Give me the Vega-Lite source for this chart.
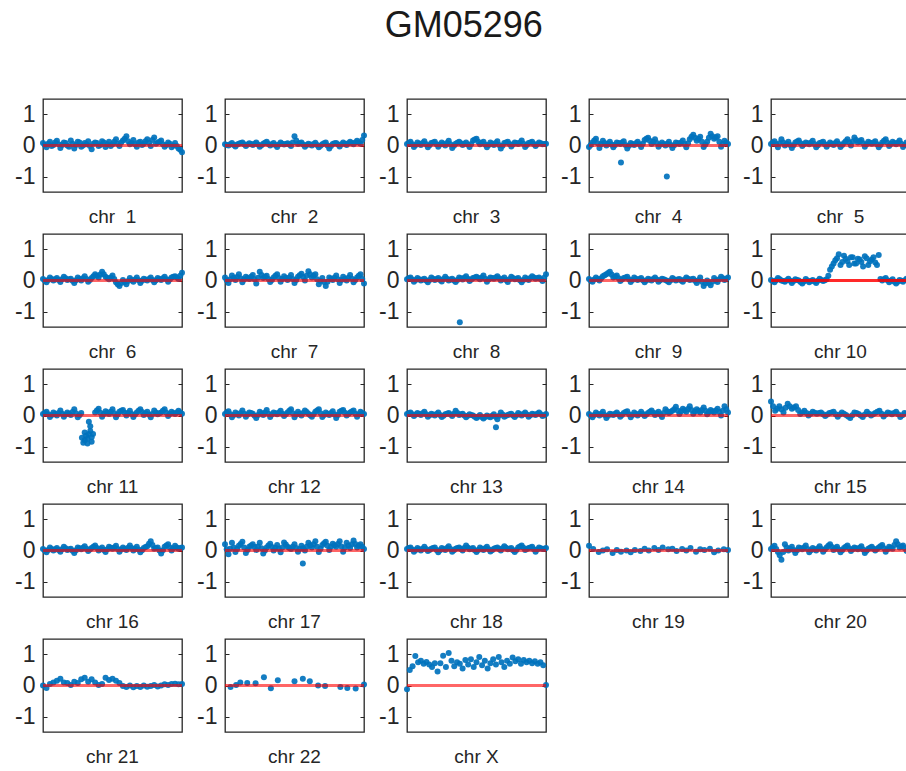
{
"$schema":"https://vega.github.io/schema/vega-lite/v6.json",
"padding":{"left":13,"top":8,"right":0,"bottom":0},
"background":"white",
"title":{"text":"GM05296","fontSize":36,"font":"Liberation Sans","fontWeight":"normal","color":"#1a1a1a","anchor":"middle","offset":53},
"bounds":"flush",
"spacing":{"row":42,"column":43},
"columns":5,
"config":{"view":{"stroke":"#262626","strokeWidth":1.3},"font":"Liberation Sans"},
"data":{"values":[
{"c":"1","x":0,"y":0.08},{"c":"1","x":2.5,"y":-0.06},{"c":"1","x":5,"y":0.12},{"c":"1","x":7.5,"y":0.02},{"c":"1","x":10,"y":0.15},{"c":"1","x":12.5,"y":-0.08},{"c":"1","x":15,"y":0.1},{"c":"1","x":17.5,"y":0},{"c":"1","x":20,"y":0.16},{"c":"1","x":22.5,"y":-0.1},{"c":"1","x":25,"y":0.12},{"c":"1","x":27.5,"y":-0.04},{"c":"1","x":30,"y":0.08},{"c":"1","x":32.5,"y":0.14},{"c":"1","x":35,"y":-0.12},{"c":"1","x":37.5,"y":0.1},{"c":"1","x":40,"y":-0.02},{"c":"1","x":42.5,"y":0.14},{"c":"1","x":45,"y":-0.05},{"c":"1","x":47.5,"y":0.12},{"c":"1","x":50,"y":0.04},{"c":"1","x":52.5,"y":0.2},{"c":"1","x":55,"y":-0.02},{"c":"1","x":57.5,"y":0.16},{"c":"1","x":60,"y":0.3},{"c":"1","x":62.5,"y":0.04},{"c":"1","x":65,"y":0.18},{"c":"1","x":67.5,"y":-0.04},{"c":"1","x":70,"y":0.12},{"c":"1","x":72.5,"y":0.06},{"c":"1","x":75,"y":0.2},{"c":"1","x":77.5,"y":-0.02},{"c":"1","x":80,"y":0.26},{"c":"1","x":82.5,"y":0.1},{"c":"1","x":85,"y":0.16},{"c":"1","x":87.5,"y":-0.04},{"c":"1","x":90,"y":0.1},{"c":"1","x":92.5,"y":-0.06},{"c":"1","x":95,"y":0.08},{"c":"1","x":97.5,"y":-0.1},{"c":"1","x":100,"y":-0.22},
{"c":"1","x":1.25,"y":0.02},{"c":"1","x":3.75,"y":0.06},{"c":"1","x":6.25,"y":-0.02},{"c":"1","x":8.75,"y":0.1},{"c":"1","x":11.25,"y":0.04},{"c":"1","x":13.75,"y":0.02},{"c":"1","x":16.25,"y":0.08},{"c":"1","x":18.75,"y":-0.04},{"c":"1","x":21.25,"y":0.06},{"c":"1","x":23.75,"y":0.02},{"c":"1","x":26.25,"y":0.1},{"c":"1","x":28.75,"y":0},{"c":"1","x":31.25,"y":0.04},{"c":"1","x":33.75,"y":-0.02},{"c":"1","x":36.25,"y":0.06},{"c":"1","x":38.75,"y":0.08},{"c":"1","x":41.25,"y":0.02},{"c":"1","x":43.75,"y":0.1},{"c":"1","x":46.25,"y":0.04},{"c":"1","x":48.75,"y":-0.02},{"c":"1","x":51.25,"y":0.12},{"c":"1","x":53.75,"y":0.06},{"c":"1","x":56.25,"y":0.1},{"c":"1","x":58.75,"y":0.22},{"c":"1","x":61.25,"y":0.14},{"c":"1","x":63.75,"y":0.08},{"c":"1","x":66.25,"y":0.04},{"c":"1","x":68.75,"y":0.1},{"c":"1","x":71.25,"y":0.02},{"c":"1","x":73.75,"y":0.14},{"c":"1","x":76.25,"y":0.08},{"c":"1","x":78.75,"y":0.18},{"c":"1","x":81.25,"y":0.06},{"c":"1","x":83.75,"y":0.12},{"c":"1","x":86.25,"y":0.04},{"c":"1","x":88.75,"y":0.02},{"c":"1","x":91.25,"y":0.06},{"c":"1","x":93.75,"y":0},{"c":"1","x":96.25,"y":-0.02},{"c":"1","x":98.75,"y":-0.14},
{"c":"2","x":0,"y":0.04},{"c":"2","x":2.5,"y":0},{"c":"2","x":5,"y":0.08},{"c":"2","x":7.5,"y":-0.03},{"c":"2","x":10,"y":0.06},{"c":"2","x":12.5,"y":0.1},{"c":"2","x":15,"y":-0.02},{"c":"2","x":17.5,"y":0.07},{"c":"2","x":20,"y":0.02},{"c":"2","x":22.5,"y":0.1},{"c":"2","x":25,"y":-0.04},{"c":"2","x":27.5,"y":0.06},{"c":"2","x":30,"y":0.12},{"c":"2","x":32.5,"y":0},{"c":"2","x":35,"y":0.08},{"c":"2","x":37.5,"y":-0.05},{"c":"2","x":40,"y":0.1},{"c":"2","x":42.5,"y":0.03},{"c":"2","x":45,"y":0.07},{"c":"2","x":47.5,"y":-0.02},{"c":"2","x":50,"y":0.3},{"c":"2","x":52.5,"y":0.05},{"c":"2","x":55,"y":0.1},{"c":"2","x":57.5,"y":-0.04},{"c":"2","x":60,"y":0.06},{"c":"2","x":62.5,"y":0},{"c":"2","x":65,"y":0.09},{"c":"2","x":67.5,"y":-0.06},{"c":"2","x":70,"y":0.04},{"c":"2","x":72.5,"y":0.1},{"c":"2","x":75,"y":-0.1},{"c":"2","x":77.5,"y":0.05},{"c":"2","x":80,"y":0.08},{"c":"2","x":82.5,"y":-0.03},{"c":"2","x":85,"y":0.1},{"c":"2","x":87.5,"y":0.02},{"c":"2","x":90,"y":0.12},{"c":"2","x":92.5,"y":0.04},{"c":"2","x":95,"y":0.15},{"c":"2","x":97.5,"y":0.06},{"c":"2","x":100,"y":0.32},
{"c":"2","x":1.25,"y":0.02},{"c":"2","x":3.75,"y":0.04},{"c":"2","x":6.25,"y":0.02},{"c":"2","x":8.75,"y":0.03},{"c":"2","x":11.25,"y":0.08},{"c":"2","x":13.75,"y":0.04},{"c":"2","x":16.25,"y":0.03},{"c":"2","x":18.75,"y":0.05},{"c":"2","x":21.25,"y":0.06},{"c":"2","x":23.75,"y":0.03},{"c":"2","x":26.25,"y":0.01},{"c":"2","x":28.75,"y":0.09},{"c":"2","x":31.25,"y":0.05},{"c":"2","x":33.75,"y":0.04},{"c":"2","x":36.25,"y":0.02},{"c":"2","x":38.75,"y":0.03},{"c":"2","x":41.25,"y":0.06},{"c":"2","x":43.75,"y":0.05},{"c":"2","x":46.25,"y":0.03},{"c":"2","x":48.75,"y":0.1},{"c":"2","x":51.25,"y":0.16},{"c":"2","x":53.75,"y":0.07},{"c":"2","x":56.25,"y":0.03},{"c":"2","x":58.75,"y":0.02},{"c":"2","x":61.25,"y":0.03},{"c":"2","x":63.75,"y":0.05},{"c":"2","x":66.25,"y":0.02},{"c":"2","x":68.75,"y":-0.01},{"c":"2","x":71.25,"y":0.07},{"c":"2","x":73.75,"y":0},{"c":"2","x":76.25,"y":-0.02},{"c":"2","x":78.75,"y":0.07},{"c":"2","x":81.25,"y":0.03},{"c":"2","x":83.75,"y":0.04},{"c":"2","x":86.25,"y":0.06},{"c":"2","x":88.75,"y":0.07},{"c":"2","x":91.25,"y":0.08},{"c":"2","x":93.75,"y":0.1},{"c":"2","x":96.25,"y":0.1},{"c":"2","x":98.75,"y":0.18},
{"c":"3","x":0,"y":0.05},{"c":"3","x":2.5,"y":0.12},{"c":"3","x":5,"y":-0.05},{"c":"3","x":7.5,"y":0.1},{"c":"3","x":10,"y":0.02},{"c":"3","x":12.5,"y":0.14},{"c":"3","x":15,"y":-0.06},{"c":"3","x":17.5,"y":0.08},{"c":"3","x":20,"y":0.12},{"c":"3","x":22.5,"y":-0.04},{"c":"3","x":25,"y":0.1},{"c":"3","x":27.5,"y":0},{"c":"3","x":30,"y":0.15},{"c":"3","x":32.5,"y":-0.08},{"c":"3","x":35,"y":0.06},{"c":"3","x":37.5,"y":0.12},{"c":"3","x":40,"y":0.02},{"c":"3","x":42.5,"y":0.1},{"c":"3","x":45,"y":-0.05},{"c":"3","x":47.5,"y":0.16},{"c":"3","x":50,"y":0.22},{"c":"3","x":52.5,"y":0.04},{"c":"3","x":55,"y":0.12},{"c":"3","x":57.5,"y":-0.06},{"c":"3","x":60,"y":0.1},{"c":"3","x":62.5,"y":0.02},{"c":"3","x":65,"y":0.14},{"c":"3","x":67.5,"y":-0.1},{"c":"3","x":70,"y":0.08},{"c":"3","x":72.5,"y":0.12},{"c":"3","x":75,"y":-0.03},{"c":"3","x":77.5,"y":0.1},{"c":"3","x":80,"y":0.05},{"c":"3","x":82.5,"y":0.16},{"c":"3","x":85,"y":-0.05},{"c":"3","x":87.5,"y":0.08},{"c":"3","x":90,"y":0.12},{"c":"3","x":92.5,"y":-0.02},{"c":"3","x":95,"y":0.1},{"c":"3","x":97.5,"y":0.04},{"c":"3","x":100,"y":0.06},
{"c":"3","x":1.25,"y":0.08},{"c":"3","x":3.75,"y":0.04},{"c":"3","x":6.25,"y":0.02},{"c":"3","x":8.75,"y":0.06},{"c":"3","x":11.25,"y":0.08},{"c":"3","x":13.75,"y":0.04},{"c":"3","x":16.25,"y":0.01},{"c":"3","x":18.75,"y":0.1},{"c":"3","x":21.25,"y":0.04},{"c":"3","x":23.75,"y":0.03},{"c":"3","x":26.25,"y":0.05},{"c":"3","x":28.75,"y":0.08},{"c":"3","x":31.25,"y":0.04},{"c":"3","x":33.75,"y":-0.01},{"c":"3","x":36.25,"y":0.09},{"c":"3","x":38.75,"y":0.07},{"c":"3","x":41.25,"y":0.06},{"c":"3","x":43.75,"y":0.03},{"c":"3","x":46.25,"y":0.05},{"c":"3","x":48.75,"y":0.19},{"c":"3","x":51.25,"y":0.12},{"c":"3","x":53.75,"y":0.08},{"c":"3","x":56.25,"y":0.03},{"c":"3","x":58.75,"y":0.02},{"c":"3","x":61.25,"y":0.06},{"c":"3","x":63.75,"y":0.08},{"c":"3","x":66.25,"y":0.02},{"c":"3","x":68.75,"y":-0.01},{"c":"3","x":71.25,"y":0.1},{"c":"3","x":73.75,"y":0.05},{"c":"3","x":76.25,"y":0.03},{"c":"3","x":78.75,"y":0.08},{"c":"3","x":81.25,"y":0.1},{"c":"3","x":83.75,"y":0.06},{"c":"3","x":86.25,"y":0.02},{"c":"3","x":88.75,"y":0.1},{"c":"3","x":91.25,"y":0.05},{"c":"3","x":93.75,"y":0.04},{"c":"3","x":96.25,"y":0.07},{"c":"3","x":98.75,"y":0.05},
{"c":"4","x":0,"y":-0.05},{"c":"4","x":2.5,"y":0.1},{"c":"4","x":5,"y":0.22},{"c":"4","x":7.5,"y":-0.08},{"c":"4","x":10,"y":0.15},{"c":"4","x":12.5,"y":0},{"c":"4","x":15,"y":0.12},{"c":"4","x":17.5,"y":-0.06},{"c":"4","x":20,"y":0.1},{"c":"4","x":22.5,"y":0.05},{"c":"4","x":25,"y":0.14},{"c":"4","x":27.5,"y":-0.1},{"c":"4","x":30,"y":0.08},{"c":"4","x":32.5,"y":0.02},{"c":"4","x":35,"y":0.12},{"c":"4","x":37.5,"y":-0.05},{"c":"4","x":40,"y":0.18},{"c":"4","x":42.5,"y":0.25},{"c":"4","x":45,"y":0.05},{"c":"4","x":47.5,"y":0.2},{"c":"4","x":50,"y":-0.04},{"c":"4","x":52.5,"y":0.1},{"c":"4","x":55,"y":0},{"c":"4","x":57.5,"y":0.12},{"c":"4","x":60,"y":-0.08},{"c":"4","x":62.5,"y":0.1},{"c":"4","x":65,"y":0.05},{"c":"4","x":67.5,"y":0.16},{"c":"4","x":70,"y":-0.06},{"c":"4","x":72.5,"y":0.2},{"c":"4","x":75,"y":0.35},{"c":"4","x":77.5,"y":0.15},{"c":"4","x":80,"y":0.28},{"c":"4","x":82.5,"y":-0.05},{"c":"4","x":85,"y":0.12},{"c":"4","x":87.5,"y":0.38},{"c":"4","x":90,"y":0.22},{"c":"4","x":92.5,"y":0.3},{"c":"4","x":95,"y":-0.04},{"c":"4","x":97.5,"y":0.15},{"c":"4","x":100,"y":0.05},{"c":"4","x":23,"y":-0.55},{"c":"4","x":56,"y":-1.0},
{"c":"4","x":1.25,"y":0.02},{"c":"4","x":3.75,"y":0.16},{"c":"4","x":6.25,"y":0.07},{"c":"4","x":8.75,"y":0.04},{"c":"4","x":11.25,"y":0.08},{"c":"4","x":13.75,"y":0.06},{"c":"4","x":16.25,"y":0.03},{"c":"4","x":18.75,"y":0.02},{"c":"4","x":21.25,"y":0.08},{"c":"4","x":23.75,"y":0.1},{"c":"4","x":26.25,"y":0.02},{"c":"4","x":28.75,"y":-0.01},{"c":"4","x":31.25,"y":0.05},{"c":"4","x":33.75,"y":0.07},{"c":"4","x":36.25,"y":0.04},{"c":"4","x":38.75,"y":0.06},{"c":"4","x":41.25,"y":0.22},{"c":"4","x":43.75,"y":0.15},{"c":"4","x":46.25,"y":0.12},{"c":"4","x":48.75,"y":0.08},{"c":"4","x":51.25,"y":0.03},{"c":"4","x":53.75,"y":0.05},{"c":"4","x":56.25,"y":0.06},{"c":"4","x":58.75,"y":0.02},{"c":"4","x":61.25,"y":0.01},{"c":"4","x":63.75,"y":0.08},{"c":"4","x":66.25,"y":0.1},{"c":"4","x":68.75,"y":0.05},{"c":"4","x":71.25,"y":0.07},{"c":"4","x":73.75,"y":0.28},{"c":"4","x":76.25,"y":0.25},{"c":"4","x":78.75,"y":0.22},{"c":"4","x":81.25,"y":0.12},{"c":"4","x":83.75,"y":0.03},{"c":"4","x":86.25,"y":0.25},{"c":"4","x":88.75,"y":0.3},{"c":"4","x":91.25,"y":0.26},{"c":"4","x":93.75,"y":0.12},{"c":"4","x":96.25,"y":0.05},{"c":"4","x":98.75,"y":0.1},
{"c":"5","x":0,"y":0.05},{"c":"5","x":2.5,"y":0.14},{"c":"5","x":5,"y":-0.06},{"c":"5","x":7.5,"y":0.2},{"c":"5","x":10,"y":0},{"c":"5","x":12.5,"y":0.12},{"c":"5","x":15,"y":-0.08},{"c":"5","x":17.5,"y":0.1},{"c":"5","x":20,"y":0.16},{"c":"5","x":22.5,"y":-0.02},{"c":"5","x":25,"y":0.1},{"c":"5","x":27.5,"y":0.04},{"c":"5","x":30,"y":0.15},{"c":"5","x":32.5,"y":-0.06},{"c":"5","x":35,"y":0.08},{"c":"5","x":37.5,"y":0.12},{"c":"5","x":40,"y":-0.04},{"c":"5","x":42.5,"y":0.1},{"c":"5","x":45,"y":0.02},{"c":"5","x":47.5,"y":0.14},{"c":"5","x":50,"y":-0.05},{"c":"5","x":52.5,"y":0.08},{"c":"5","x":55,"y":0.2},{"c":"5","x":57.5,"y":0},{"c":"5","x":60,"y":0.26},{"c":"5","x":62.5,"y":0.1},{"c":"5","x":65,"y":0.18},{"c":"5","x":67.5,"y":-0.04},{"c":"5","x":70,"y":0.12},{"c":"5","x":72.5,"y":0.06},{"c":"5","x":75,"y":0.14},{"c":"5","x":77.5,"y":-0.06},{"c":"5","x":80,"y":0.1},{"c":"5","x":82.5,"y":0.2},{"c":"5","x":85,"y":-0.02},{"c":"5","x":87.5,"y":0.12},{"c":"5","x":90,"y":0.04},{"c":"5","x":92.5,"y":0.16},{"c":"5","x":95,"y":-0.05},{"c":"5","x":97.5,"y":0.1},{"c":"5","x":100,"y":0.06},
{"c":"5","x":1.25,"y":0.1},{"c":"5","x":3.75,"y":0.04},{"c":"5","x":6.25,"y":0.07},{"c":"5","x":8.75,"y":0.1},{"c":"5","x":11.25,"y":0.06},{"c":"5","x":13.75,"y":0.02},{"c":"5","x":16.25,"y":0.01},{"c":"5","x":18.75,"y":0.13},{"c":"5","x":21.25,"y":0.07},{"c":"5","x":23.75,"y":0.04},{"c":"5","x":26.25,"y":0.07},{"c":"5","x":28.75,"y":0.1},{"c":"5","x":31.25,"y":0.05},{"c":"5","x":33.75,"y":0.01},{"c":"5","x":36.25,"y":0.1},{"c":"5","x":38.75,"y":0.04},{"c":"5","x":41.25,"y":0.03},{"c":"5","x":43.75,"y":0.06},{"c":"5","x":46.25,"y":0.08},{"c":"5","x":48.75,"y":0.05},{"c":"5","x":51.25,"y":0.02},{"c":"5","x":53.75,"y":0.14},{"c":"5","x":56.25,"y":0.1},{"c":"5","x":58.75,"y":0.13},{"c":"5","x":61.25,"y":0.18},{"c":"5","x":63.75,"y":0.14},{"c":"5","x":66.25,"y":0.07},{"c":"5","x":68.75,"y":0.04},{"c":"5","x":71.25,"y":0.09},{"c":"5","x":73.75,"y":0.1},{"c":"5","x":76.25,"y":0.04},{"c":"5","x":78.75,"y":0.02},{"c":"5","x":81.25,"y":0.15},{"c":"5","x":83.75,"y":0.09},{"c":"5","x":86.25,"y":0.05},{"c":"5","x":88.75,"y":0.08},{"c":"5","x":91.25,"y":0.1},{"c":"5","x":93.75,"y":0.06},{"c":"5","x":96.25,"y":0.02},{"c":"5","x":98.75,"y":0.08},
{"c":"6","x":0,"y":0.05},{"c":"6","x":2.5,"y":-0.06},{"c":"6","x":5,"y":0.1},{"c":"6","x":7.5,"y":0},{"c":"6","x":10,"y":0.08},{"c":"6","x":12.5,"y":-0.05},{"c":"6","x":15,"y":0.12},{"c":"6","x":17.5,"y":0.02},{"c":"6","x":20,"y":0.06},{"c":"6","x":22.5,"y":-0.08},{"c":"6","x":25,"y":0.1},{"c":"6","x":27.5,"y":0},{"c":"6","x":30,"y":0.14},{"c":"6","x":32.5,"y":-0.04},{"c":"6","x":35,"y":0.08},{"c":"6","x":37.5,"y":0.2},{"c":"6","x":40,"y":0.1},{"c":"6","x":42.5,"y":0.28},{"c":"6","x":45,"y":0.12},{"c":"6","x":47.5,"y":0.04},{"c":"6","x":50,"y":0.16},{"c":"6","x":52.5,"y":-0.06},{"c":"6","x":55,"y":-0.18},{"c":"6","x":57.5,"y":0.02},{"c":"6","x":60,"y":-0.12},{"c":"6","x":62.5,"y":0.08},{"c":"6","x":65,"y":-0.04},{"c":"6","x":67.5,"y":0.1},{"c":"6","x":70,"y":-0.08},{"c":"6","x":72.5,"y":0.06},{"c":"6","x":75,"y":0},{"c":"6","x":77.5,"y":0.1},{"c":"6","x":80,"y":-0.06},{"c":"6","x":82.5,"y":0.08},{"c":"6","x":85,"y":0.02},{"c":"6","x":87.5,"y":0.12},{"c":"6","x":90,"y":-0.04},{"c":"6","x":92.5,"y":0.1},{"c":"6","x":95,"y":0.14},{"c":"6","x":97.5,"y":0.05},{"c":"6","x":100,"y":0.25},
{"c":"6","x":1.25,"y":0},{"c":"6","x":3.75,"y":0.02},{"c":"6","x":6.25,"y":0.05},{"c":"6","x":8.75,"y":0.04},{"c":"6","x":11.25,"y":0.02},{"c":"6","x":13.75,"y":0.04},{"c":"6","x":16.25,"y":0.07},{"c":"6","x":18.75,"y":0.04},{"c":"6","x":21.25,"y":-0.01},{"c":"6","x":23.75,"y":0.01},{"c":"6","x":26.25,"y":0.05},{"c":"6","x":28.75,"y":0.07},{"c":"6","x":31.25,"y":0.05},{"c":"6","x":33.75,"y":0.02},{"c":"6","x":36.25,"y":0.14},{"c":"6","x":38.75,"y":0.15},{"c":"6","x":41.25,"y":0.19},{"c":"6","x":43.75,"y":0.2},{"c":"6","x":46.25,"y":0.08},{"c":"6","x":48.75,"y":0.1},{"c":"6","x":51.25,"y":0.05},{"c":"6","x":53.75,"y":-0.12},{"c":"6","x":56.25,"y":-0.08},{"c":"6","x":58.75,"y":-0.05},{"c":"6","x":61.25,"y":-0.02},{"c":"6","x":63.75,"y":0.02},{"c":"6","x":66.25,"y":0.03},{"c":"6","x":68.75,"y":0.01},{"c":"6","x":71.25,"y":-0.01},{"c":"6","x":73.75,"y":0.03},{"c":"6","x":76.25,"y":0.05},{"c":"6","x":78.75,"y":0.02},{"c":"6","x":81.25,"y":0.01},{"c":"6","x":83.75,"y":0.05},{"c":"6","x":86.25,"y":0.07},{"c":"6","x":88.75,"y":0.04},{"c":"6","x":91.25,"y":0.03},{"c":"6","x":93.75,"y":0.12},{"c":"6","x":96.25,"y":0.1},{"c":"6","x":98.75,"y":0.15},
{"c":"7","x":0,"y":0.1},{"c":"7","x":2.5,"y":-0.08},{"c":"7","x":5,"y":0.16},{"c":"7","x":7.5,"y":0.02},{"c":"7","x":10,"y":0.2},{"c":"7","x":12.5,"y":-0.06},{"c":"7","x":15,"y":0.12},{"c":"7","x":17.5,"y":0.05},{"c":"7","x":20,"y":0.18},{"c":"7","x":22.5,"y":-0.1},{"c":"7","x":25,"y":0.28},{"c":"7","x":27.5,"y":0.08},{"c":"7","x":30,"y":0.15},{"c":"7","x":32.5,"y":-0.05},{"c":"7","x":35,"y":0.1},{"c":"7","x":37.5,"y":0.2},{"c":"7","x":40,"y":-0.04},{"c":"7","x":42.5,"y":0.14},{"c":"7","x":45,"y":0.02},{"c":"7","x":47.5,"y":0.18},{"c":"7","x":50,"y":-0.08},{"c":"7","x":52.5,"y":0.12},{"c":"7","x":55,"y":0.22},{"c":"7","x":57.5,"y":0},{"c":"7","x":60,"y":0.3},{"c":"7","x":62.5,"y":0.1},{"c":"7","x":65,"y":0.2},{"c":"7","x":67.5,"y":-0.12},{"c":"7","x":70,"y":0.08},{"c":"7","x":72.5,"y":-0.18},{"c":"7","x":75,"y":0.1},{"c":"7","x":77.5,"y":0.02},{"c":"7","x":80,"y":0.16},{"c":"7","x":82.5,"y":-0.08},{"c":"7","x":85,"y":0.12},{"c":"7","x":87.5,"y":0},{"c":"7","x":90,"y":0.18},{"c":"7","x":92.5,"y":-0.06},{"c":"7","x":95,"y":0.1},{"c":"7","x":97.5,"y":0.2},{"c":"7","x":100,"y":-0.1},
{"c":"7","x":1.25,"y":0.01},{"c":"7","x":3.75,"y":0.04},{"c":"7","x":6.25,"y":0.09},{"c":"7","x":8.75,"y":0.11},{"c":"7","x":11.25,"y":0.07},{"c":"7","x":13.75,"y":0.03},{"c":"7","x":16.25,"y":0.08},{"c":"7","x":18.75,"y":0.12},{"c":"7","x":21.25,"y":0.04},{"c":"7","x":23.75,"y":0.09},{"c":"7","x":26.25,"y":0.18},{"c":"7","x":28.75,"y":0.12},{"c":"7","x":31.25,"y":0.05},{"c":"7","x":33.75,"y":0.02},{"c":"7","x":36.25,"y":0.15},{"c":"7","x":38.75,"y":0.08},{"c":"7","x":41.25,"y":0.05},{"c":"7","x":43.75,"y":0.08},{"c":"7","x":46.25,"y":0.1},{"c":"7","x":48.75,"y":0.05},{"c":"7","x":51.25,"y":0.02},{"c":"7","x":53.75,"y":0.17},{"c":"7","x":56.25,"y":0.11},{"c":"7","x":58.75,"y":0.15},{"c":"7","x":61.25,"y":0.2},{"c":"7","x":63.75,"y":0.15},{"c":"7","x":66.25,"y":0.04},{"c":"7","x":68.75,"y":-0.02},{"c":"7","x":71.25,"y":-0.05},{"c":"7","x":73.75,"y":-0.04},{"c":"7","x":76.25,"y":0.06},{"c":"7","x":78.75,"y":0.09},{"c":"7","x":81.25,"y":0.04},{"c":"7","x":83.75,"y":0.02},{"c":"7","x":86.25,"y":0.06},{"c":"7","x":88.75,"y":0.09},{"c":"7","x":91.25,"y":0.06},{"c":"7","x":93.75,"y":0.02},{"c":"7","x":96.25,"y":0.15},{"c":"7","x":98.75,"y":0.05},
{"c":"8","x":0,"y":0.04},{"c":"8","x":2.5,"y":0.1},{"c":"8","x":5,"y":-0.04},{"c":"8","x":7.5,"y":0.08},{"c":"8","x":10,"y":0},{"c":"8","x":12.5,"y":0.06},{"c":"8","x":15,"y":-0.06},{"c":"8","x":17.5,"y":0.1},{"c":"8","x":20,"y":0.02},{"c":"8","x":22.5,"y":0.08},{"c":"8","x":25,"y":-0.03},{"c":"8","x":27.5,"y":0.12},{"c":"8","x":30,"y":0},{"c":"8","x":32.5,"y":0.06},{"c":"8","x":35,"y":-0.05},{"c":"8","x":37.5,"y":0.1},{"c":"8","x":40,"y":0.03},{"c":"8","x":42.5,"y":0.14},{"c":"8","x":45,"y":-0.02},{"c":"8","x":47.5,"y":0.08},{"c":"8","x":50,"y":0.12},{"c":"8","x":52.5,"y":0.04},{"c":"8","x":55,"y":0.16},{"c":"8","x":57.5,"y":-0.04},{"c":"8","x":60,"y":0.1},{"c":"8","x":62.5,"y":0.06},{"c":"8","x":65,"y":0.14},{"c":"8","x":67.5,"y":0},{"c":"8","x":70,"y":0.1},{"c":"8","x":72.5,"y":-0.05},{"c":"8","x":75,"y":0.12},{"c":"8","x":77.5,"y":0.04},{"c":"8","x":80,"y":0.08},{"c":"8","x":82.5,"y":-0.06},{"c":"8","x":85,"y":0.1},{"c":"8","x":87.5,"y":0.02},{"c":"8","x":90,"y":0.14},{"c":"8","x":92.5,"y":0.06},{"c":"8","x":95,"y":0.1},{"c":"8","x":97.5,"y":-0.02},{"c":"8","x":100,"y":0.2},{"c":"8","x":38,"y":-1.35},
{"c":"8","x":1.25,"y":0.07},{"c":"8","x":3.75,"y":0.03},{"c":"8","x":6.25,"y":0.02},{"c":"8","x":8.75,"y":0.04},{"c":"8","x":11.25,"y":0.03},{"c":"8","x":13.75,"y":0},{"c":"8","x":16.25,"y":0.02},{"c":"8","x":18.75,"y":0.06},{"c":"8","x":21.25,"y":0.05},{"c":"8","x":23.75,"y":0.02},{"c":"8","x":26.25,"y":0.05},{"c":"8","x":28.75,"y":0.06},{"c":"8","x":31.25,"y":0.03},{"c":"8","x":33.75,"y":0},{"c":"8","x":36.25,"y":0.02},{"c":"8","x":38.75,"y":0.07},{"c":"8","x":41.25,"y":0.09},{"c":"8","x":43.75,"y":0.06},{"c":"8","x":46.25,"y":0.03},{"c":"8","x":48.75,"y":0.1},{"c":"8","x":51.25,"y":0.08},{"c":"8","x":53.75,"y":0.1},{"c":"8","x":56.25,"y":0.06},{"c":"8","x":58.75,"y":0.03},{"c":"8","x":61.25,"y":0.08},{"c":"8","x":63.75,"y":0.1},{"c":"8","x":66.25,"y":0.07},{"c":"8","x":68.75,"y":0.05},{"c":"8","x":71.25,"y":0.02},{"c":"8","x":73.75,"y":0.04},{"c":"8","x":76.25,"y":0.08},{"c":"8","x":78.75,"y":0.06},{"c":"8","x":81.25,"y":0.01},{"c":"8","x":83.75,"y":0.02},{"c":"8","x":86.25,"y":0.06},{"c":"8","x":88.75,"y":0.08},{"c":"8","x":91.25,"y":0.1},{"c":"8","x":93.75,"y":0.08},{"c":"8","x":96.25,"y":0.04},{"c":"8","x":98.75,"y":0.09},
{"c":"9","x":0,"y":0.05},{"c":"9","x":2.5,"y":-0.04},{"c":"9","x":5,"y":0.1},{"c":"9","x":7.5,"y":0},{"c":"9","x":10,"y":0.14},{"c":"9","x":12.5,"y":0.2},{"c":"9","x":15,"y":0.28},{"c":"9","x":17.5,"y":0.1},{"c":"9","x":20,"y":0.16},{"c":"9","x":22.5,"y":-0.02},{"c":"9","x":25,"y":0.08},{"c":"9","x":27.5,"y":0.12},{"c":"9","x":30,"y":-0.05},{"c":"9","x":32.5,"y":0.1},{"c":"9","x":35,"y":0.02},{"c":"9","x":37.5,"y":0.08},{"c":"9","x":40,"y":-0.06},{"c":"9","x":42.5,"y":0.06},{"c":"9","x":45,"y":0},{"c":"9","x":47.5,"y":0.1},{"c":"9","x":50,"y":-0.04},{"c":"9","x":52.5,"y":0.06},{"c":"9","x":55,"y":0.02},{"c":"9","x":57.5,"y":-0.06},{"c":"9","x":60,"y":0.08},{"c":"9","x":62.5,"y":0},{"c":"9","x":65,"y":0.05},{"c":"9","x":67.5,"y":-0.04},{"c":"9","x":70,"y":0.1},{"c":"9","x":72.5,"y":0.02},{"c":"9","x":75,"y":0.06},{"c":"9","x":77.5,"y":-0.08},{"c":"9","x":80,"y":0.1},{"c":"9","x":82.5,"y":-0.18},{"c":"9","x":85,"y":0},{"c":"9","x":87.5,"y":-0.15},{"c":"9","x":90,"y":0.08},{"c":"9","x":92.5,"y":-0.05},{"c":"9","x":95,"y":0.12},{"c":"9","x":97.5,"y":0.02},{"c":"9","x":100,"y":0.1},
{"c":"9","x":1.25,"y":0},{"c":"9","x":3.75,"y":0.03},{"c":"9","x":6.25,"y":0.05},{"c":"9","x":8.75,"y":0.07},{"c":"9","x":11.25,"y":0.17},{"c":"9","x":13.75,"y":0.24},{"c":"9","x":16.25,"y":0.19},{"c":"9","x":18.75,"y":0.13},{"c":"9","x":21.25,"y":0.07},{"c":"9","x":23.75,"y":0.03},{"c":"9","x":26.25,"y":0.1},{"c":"9","x":28.75,"y":0.04},{"c":"9","x":31.25,"y":0.02},{"c":"9","x":33.75,"y":0.06},{"c":"9","x":36.25,"y":0.05},{"c":"9","x":38.75,"y":0.01},{"c":"9","x":41.25,"y":0},{"c":"9","x":43.75,"y":0.03},{"c":"9","x":46.25,"y":0.05},{"c":"9","x":48.75,"y":0.03},{"c":"9","x":51.25,"y":0.01},{"c":"9","x":53.75,"y":0.04},{"c":"9","x":56.25,"y":-0.02},{"c":"9","x":58.75,"y":0.01},{"c":"9","x":61.25,"y":0.04},{"c":"9","x":63.75,"y":0.03},{"c":"9","x":66.25,"y":0},{"c":"9","x":68.75,"y":0.03},{"c":"9","x":71.25,"y":0.06},{"c":"9","x":73.75,"y":0.04},{"c":"9","x":76.25,"y":-0.01},{"c":"9","x":78.75,"y":0.01},{"c":"9","x":81.25,"y":-0.04},{"c":"9","x":83.75,"y":-0.09},{"c":"9","x":86.25,"y":-0.08},{"c":"9","x":88.75,"y":-0.04},{"c":"9","x":91.25,"y":0.01},{"c":"9","x":93.75,"y":0.04},{"c":"9","x":96.25,"y":0.07},{"c":"9","x":98.75,"y":0.06},
{"c":"10","x":0,"y":0.02},{"c":"10","x":2.5,"y":-0.06},{"c":"10","x":5,"y":0.08},{"c":"10","x":7.5,"y":0},{"c":"10","x":10,"y":-0.04},{"c":"10","x":12.5,"y":0.06},{"c":"10","x":15,"y":-0.08},{"c":"10","x":17.5,"y":0.04},{"c":"10","x":20,"y":0},{"c":"10","x":22.5,"y":-0.1},{"c":"10","x":25,"y":0.05},{"c":"10","x":27.5,"y":-0.06},{"c":"10","x":30,"y":0.02},{"c":"10","x":32.5,"y":-0.08},{"c":"10","x":35,"y":0.06},{"c":"10","x":37.5,"y":-0.02},{"c":"10","x":40,"y":0.04},
{"c":"10","x":1.25,"y":-0.02},{"c":"10","x":3.75,"y":0.01},{"c":"10","x":6.25,"y":0.04},{"c":"10","x":8.75,"y":-0.02},{"c":"10","x":11.25,"y":0.01},{"c":"10","x":13.75,"y":-0.01},{"c":"10","x":16.25,"y":-0.02},{"c":"10","x":18.75,"y":0.02},{"c":"10","x":21.25,"y":-0.05},{"c":"10","x":23.75,"y":-0.03},{"c":"10","x":26.25,"y":0},{"c":"10","x":28.75,"y":-0.02},{"c":"10","x":31.25,"y":-0.03},{"c":"10","x":33.75,"y":-0.01},{"c":"10","x":36.25,"y":0.02},{"c":"10","x":38.75,"y":0.01},
{"c":"10","x":42.5,"y":0.35},{"c":"10","x":45,"y":0.55},{"c":"10","x":47.5,"y":0.72},{"c":"10","x":50,"y":0.5},{"c":"10","x":52.5,"y":0.8},{"c":"10","x":55,"y":0.62},{"c":"10","x":57.5,"y":0.75},{"c":"10","x":60,"y":0.55},{"c":"10","x":62.5,"y":0.7},{"c":"10","x":65,"y":0.6},{"c":"10","x":67.5,"y":0.78},{"c":"10","x":70,"y":0.5},{"c":"10","x":72.5,"y":0.68},{"c":"10","x":75,"y":0.58},{"c":"10","x":77.5,"y":0.82},
{"c":"10","x":41.25,"y":0.15},{"c":"10","x":43.75,"y":0.45},{"c":"10","x":46.25,"y":0.65},{"c":"10","x":48.75,"y":0.85},{"c":"10","x":51.25,"y":0.6},{"c":"10","x":53.75,"y":0.7},{"c":"10","x":56.25,"y":0.5},{"c":"10","x":58.75,"y":0.75},{"c":"10","x":61.25,"y":0.55},{"c":"10","x":63.75,"y":0.68},{"c":"10","x":66.25,"y":0.45},{"c":"10","x":68.75,"y":0.72},{"c":"10","x":71.25,"y":0.62},{"c":"10","x":73.75,"y":0.75},{"c":"10","x":76.25,"y":0.5},
{"c":"10","x":80,"y":0},{"c":"10","x":82.5,"y":0.08},{"c":"10","x":85,"y":-0.06},{"c":"10","x":87.5,"y":0.04},{"c":"10","x":90,"y":-0.1},{"c":"10","x":92.5,"y":0.02},{"c":"10","x":95,"y":-0.04},{"c":"10","x":97.5,"y":0.06},{"c":"10","x":100,"y":-0.02},
{"c":"10","x":78.75,"y":0.05},{"c":"10","x":81.25,"y":0.04},{"c":"10","x":83.75,"y":0.01},{"c":"10","x":86.25,"y":-0.01},{"c":"10","x":88.75,"y":-0.04},{"c":"10","x":91.25,"y":-0.04},{"c":"10","x":93.75,"y":-0.01},{"c":"10","x":96.25,"y":0.01},{"c":"10","x":98.75,"y":0.02},
{"c":"11","x":0,"y":0.05},{"c":"11","x":2.5,"y":0.12},{"c":"11","x":5,"y":-0.05},{"c":"11","x":7.5,"y":0.1},{"c":"11","x":10,"y":0},{"c":"11","x":12.5,"y":0.16},{"c":"11","x":15,"y":-0.04},{"c":"11","x":17.5,"y":0.1},{"c":"11","x":20,"y":0.02},{"c":"11","x":22.5,"y":0.2},{"c":"11","x":25,"y":-0.06},{"c":"11","x":27.5,"y":0.08},
{"c":"11","x":1.25,"y":0.08},{"c":"11","x":3.75,"y":0.04},{"c":"11","x":6.25,"y":0.02},{"c":"11","x":8.75,"y":0.05},{"c":"11","x":11.25,"y":0.08},{"c":"11","x":13.75,"y":0.06},{"c":"11","x":16.25,"y":0.03},{"c":"11","x":18.75,"y":0.06},{"c":"11","x":21.25,"y":0.11},{"c":"11","x":23.75,"y":0.07},{"c":"11","x":26.25,"y":0.01},
{"c":"11","x":37.5,"y":0.1},{"c":"11","x":40,"y":0.22},{"c":"11","x":42.5,"y":-0.04},{"c":"11","x":45,"y":0.14},{"c":"11","x":47.5,"y":0.05},{"c":"11","x":50,"y":0.2},{"c":"11","x":52.5,"y":-0.06},{"c":"11","x":55,"y":0.12},{"c":"11","x":57.5,"y":0.18},{"c":"11","x":60,"y":0},{"c":"11","x":62.5,"y":0.15},{"c":"11","x":65,"y":-0.05},{"c":"11","x":67.5,"y":0.1},{"c":"11","x":70,"y":0.2},{"c":"11","x":72.5,"y":0.02},{"c":"11","x":75,"y":0.12},{"c":"11","x":77.5,"y":-0.06},{"c":"11","x":80,"y":0.16},{"c":"11","x":82.5,"y":0.04},{"c":"11","x":85,"y":0.1},{"c":"11","x":87.5,"y":0.2},{"c":"11","x":90,"y":-0.02},{"c":"11","x":92.5,"y":0.12},{"c":"11","x":95,"y":0.05},{"c":"11","x":97.5,"y":0.15},{"c":"11","x":100,"y":0.06},
{"c":"11","x":38.75,"y":0.16},{"c":"11","x":41.25,"y":0.09},{"c":"11","x":43.75,"y":0.05},{"c":"11","x":46.25,"y":0.1},{"c":"11","x":48.75,"y":0.12},{"c":"11","x":51.25,"y":0.07},{"c":"11","x":53.75,"y":0.03},{"c":"11","x":56.25,"y":0.15},{"c":"11","x":58.75,"y":0.09},{"c":"11","x":61.25,"y":0.08},{"c":"11","x":63.75,"y":0.05},{"c":"11","x":66.25,"y":0.03},{"c":"11","x":68.75,"y":0.15},{"c":"11","x":71.25,"y":0.11},{"c":"11","x":73.75,"y":0.07},{"c":"11","x":76.25,"y":0.03},{"c":"11","x":78.75,"y":0.05},{"c":"11","x":81.25,"y":0.1},{"c":"11","x":83.75,"y":0.07},{"c":"11","x":86.25,"y":0.15},{"c":"11","x":88.75,"y":0.09},{"c":"11","x":91.25,"y":0.05},{"c":"11","x":93.75,"y":0.08},{"c":"11","x":96.25,"y":0.1},{"c":"11","x":98.75,"y":0.1},
{"c":"11","x":33,"y":-0.2},{"c":"11","x":34,"y":-0.35},{"c":"11","x":30,"y":-0.55},{"c":"11","x":31,"y":-0.65},{"c":"11","x":33,"y":-0.6},{"c":"11","x":28,"y":-0.72},{"c":"11","x":30,"y":-0.8},{"c":"11","x":32,"y":-0.75},{"c":"11","x":35,"y":-0.7},{"c":"11","x":29,"y":-0.88},{"c":"11","x":32,"y":-0.9},{"c":"11","x":35,"y":-0.85},{"c":"11","x":36,"y":-0.6},{"c":"11","x":34,"y":-0.5},
{"c":"12","x":0,"y":0.05},{"c":"12","x":2.5,"y":0.14},{"c":"12","x":5,"y":-0.06},{"c":"12","x":7.5,"y":0.1},{"c":"12","x":10,"y":0},{"c":"12","x":12.5,"y":0.16},{"c":"12","x":15,"y":-0.04},{"c":"12","x":17.5,"y":0.1},{"c":"12","x":20,"y":0.06},{"c":"12","x":22.5,"y":-0.08},{"c":"12","x":25,"y":0.12},{"c":"12","x":27.5,"y":0.02},{"c":"12","x":30,"y":0.18},{"c":"12","x":32.5,"y":-0.05},{"c":"12","x":35,"y":0.1},{"c":"12","x":37.5,"y":0.04},{"c":"12","x":40,"y":0.15},{"c":"12","x":42.5,"y":-0.02},{"c":"12","x":45,"y":0.1},{"c":"12","x":47.5,"y":0.2},{"c":"12","x":50,"y":-0.06},{"c":"12","x":52.5,"y":0.12},{"c":"12","x":55,"y":0},{"c":"12","x":57.5,"y":0.16},{"c":"12","x":60,"y":0.06},{"c":"12","x":62.5,"y":-0.04},{"c":"12","x":65,"y":0.12},{"c":"12","x":67.5,"y":0.2},{"c":"12","x":70,"y":-0.05},{"c":"12","x":72.5,"y":0.1},{"c":"12","x":75,"y":0.02},{"c":"12","x":77.5,"y":0.14},{"c":"12","x":80,"y":-0.08},{"c":"12","x":82.5,"y":0.12},{"c":"12","x":85,"y":0.18},{"c":"12","x":87.5,"y":0},{"c":"12","x":90,"y":0.1},{"c":"12","x":92.5,"y":0.16},{"c":"12","x":95,"y":-0.04},{"c":"12","x":97.5,"y":0.12},{"c":"12","x":100,"y":0.05},
{"c":"12","x":1.25,"y":0.1},{"c":"12","x":3.75,"y":0.04},{"c":"12","x":6.25,"y":0.02},{"c":"12","x":8.75,"y":0.05},{"c":"12","x":11.25,"y":0.08},{"c":"12","x":13.75,"y":0.06},{"c":"12","x":16.25,"y":0.03},{"c":"12","x":18.75,"y":0.08},{"c":"12","x":21.25,"y":-0.01},{"c":"12","x":23.75,"y":0.02},{"c":"12","x":26.25,"y":0.07},{"c":"12","x":28.75,"y":0.1},{"c":"12","x":31.25,"y":0.06},{"c":"12","x":33.75,"y":0.03},{"c":"12","x":36.25,"y":0.07},{"c":"12","x":38.75,"y":0.1},{"c":"12","x":41.25,"y":0.06},{"c":"12","x":43.75,"y":0.04},{"c":"12","x":46.25,"y":0.15},{"c":"12","x":48.75,"y":0.07},{"c":"12","x":51.25,"y":0.03},{"c":"12","x":53.75,"y":0.06},{"c":"12","x":56.25,"y":0.08},{"c":"12","x":58.75,"y":0.11},{"c":"12","x":61.25,"y":0.01},{"c":"12","x":63.75,"y":0.04},{"c":"12","x":66.25,"y":0.16},{"c":"12","x":68.75,"y":0.07},{"c":"12","x":71.25,"y":0.02},{"c":"12","x":73.75,"y":0.06},{"c":"12","x":76.25,"y":0.08},{"c":"12","x":78.75,"y":0.03},{"c":"12","x":81.25,"y":0.02},{"c":"12","x":83.75,"y":0.15},{"c":"12","x":86.25,"y":0.09},{"c":"12","x":88.75,"y":0.05},{"c":"12","x":91.25,"y":0.13},{"c":"12","x":93.75,"y":0.06},{"c":"12","x":96.25,"y":0.04},{"c":"12","x":98.75,"y":0.08},
{"c":"13","x":0,"y":0.05},{"c":"13","x":2.5,"y":0.1},{"c":"13","x":5,"y":-0.02},{"c":"13","x":7.5,"y":0.08},{"c":"13","x":10,"y":0.02},{"c":"13","x":12.5,"y":0.12},{"c":"13","x":15,"y":-0.04},{"c":"13","x":17.5,"y":0.06},{"c":"13","x":20,"y":0},{"c":"13","x":22.5,"y":0.1},{"c":"13","x":25,"y":-0.05},{"c":"13","x":27.5,"y":0.04},{"c":"13","x":30,"y":0.08},{"c":"13","x":32.5,"y":-0.02},{"c":"13","x":35,"y":0.15},{"c":"13","x":37.5,"y":0.02},{"c":"13","x":40,"y":0.06},{"c":"13","x":42.5,"y":-0.06},{"c":"13","x":45,"y":0.04},{"c":"13","x":47.5,"y":0},{"c":"13","x":50,"y":-0.08},{"c":"13","x":52.5,"y":0.02},{"c":"13","x":55,"y":-0.1},{"c":"13","x":57.5,"y":0},{"c":"13","x":60,"y":-0.06},{"c":"13","x":62.5,"y":0.04},{"c":"13","x":65,"y":-0.12},{"c":"13","x":67.5,"y":0.1},{"c":"13","x":70,"y":-0.04},{"c":"13","x":72.5,"y":0.02},{"c":"13","x":75,"y":0.06},{"c":"13","x":77.5,"y":-0.05},{"c":"13","x":80,"y":0.08},{"c":"13","x":82.5,"y":0},{"c":"13","x":85,"y":0.1},{"c":"13","x":87.5,"y":-0.04},{"c":"13","x":90,"y":0.06},{"c":"13","x":92.5,"y":0.02},{"c":"13","x":95,"y":0.1},{"c":"13","x":97.5,"y":-0.02},{"c":"13","x":100,"y":0.05},{"c":"13","x":64,"y":-0.38},
{"c":"13","x":1.25,"y":0.07},{"c":"13","x":3.75,"y":0.04},{"c":"13","x":6.25,"y":0.03},{"c":"13","x":8.75,"y":0.05},{"c":"13","x":11.25,"y":0.07},{"c":"13","x":13.75,"y":0.04},{"c":"13","x":16.25,"y":0.01},{"c":"13","x":18.75,"y":0.03},{"c":"13","x":21.25,"y":0.05},{"c":"13","x":23.75,"y":0.02},{"c":"13","x":26.25,"y":-0.01},{"c":"13","x":28.75,"y":0.06},{"c":"13","x":31.25,"y":0.03},{"c":"13","x":33.75,"y":0.06},{"c":"13","x":36.25,"y":0.08},{"c":"13","x":38.75,"y":0.04},{"c":"13","x":41.25,"y":0},{"c":"13","x":43.75,"y":-0.01},{"c":"13","x":46.25,"y":0.02},{"c":"13","x":48.75,"y":-0.04},{"c":"13","x":51.25,"y":-0.03},{"c":"13","x":53.75,"y":-0.05},{"c":"13","x":56.25,"y":-0.05},{"c":"13","x":58.75,"y":-0.03},{"c":"13","x":61.25,"y":-0.01},{"c":"13","x":63.75,"y":-0.04},{"c":"13","x":66.25,"y":-0.01},{"c":"13","x":68.75,"y":0.03},{"c":"13","x":71.25,"y":-0.01},{"c":"13","x":73.75,"y":0.04},{"c":"13","x":76.25,"y":0},{"c":"13","x":78.75,"y":0.01},{"c":"13","x":81.25,"y":0.04},{"c":"13","x":83.75,"y":0.05},{"c":"13","x":86.25,"y":0.03},{"c":"13","x":88.75,"y":0.01},{"c":"13","x":91.25,"y":0.04},{"c":"13","x":93.75,"y":0.06},{"c":"13","x":96.25,"y":0.04},{"c":"13","x":98.75,"y":0.01},
{"c":"14","x":0,"y":0.05},{"c":"14","x":2.5,"y":-0.06},{"c":"14","x":5,"y":0.1},{"c":"14","x":7.5,"y":0},{"c":"14","x":10,"y":0.12},{"c":"14","x":12.5,"y":-0.08},{"c":"14","x":15,"y":0.06},{"c":"14","x":17.5,"y":0.02},{"c":"14","x":20,"y":0.1},{"c":"14","x":22.5,"y":-0.04},{"c":"14","x":25,"y":0.08},{"c":"14","x":27.5,"y":0.14},{"c":"14","x":30,"y":-0.06},{"c":"14","x":32.5,"y":0.1},{"c":"14","x":35,"y":0},{"c":"14","x":37.5,"y":0.12},{"c":"14","x":40,"y":-0.02},{"c":"14","x":42.5,"y":0.08},{"c":"14","x":45,"y":0.16},{"c":"14","x":47.5,"y":0.02},{"c":"14","x":50,"y":0.12},{"c":"14","x":52.5,"y":-0.05},{"c":"14","x":55,"y":0.2},{"c":"14","x":57.5,"y":0.08},{"c":"14","x":60,"y":0.15},{"c":"14","x":62.5,"y":0.28},{"c":"14","x":65,"y":0.05},{"c":"14","x":67.5,"y":0.22},{"c":"14","x":70,"y":0.12},{"c":"14","x":72.5,"y":0.3},{"c":"14","x":75,"y":0.06},{"c":"14","x":77.5,"y":0.2},{"c":"14","x":80,"y":0.1},{"c":"14","x":82.5,"y":0.26},{"c":"14","x":85,"y":0.04},{"c":"14","x":87.5,"y":0.18},{"c":"14","x":90,"y":0.1},{"c":"14","x":92.5,"y":0.22},{"c":"14","x":95,"y":0},{"c":"14","x":97.5,"y":0.3},{"c":"14","x":100,"y":0.1},
{"c":"14","x":1.25,"y":0},{"c":"14","x":3.75,"y":0.02},{"c":"14","x":6.25,"y":0.05},{"c":"14","x":8.75,"y":0.06},{"c":"14","x":11.25,"y":0.02},{"c":"14","x":13.75,"y":-0.01},{"c":"14","x":16.25,"y":0.04},{"c":"14","x":18.75,"y":0.06},{"c":"14","x":21.25,"y":0.03},{"c":"14","x":23.75,"y":0.02},{"c":"14","x":26.25,"y":0.11},{"c":"14","x":28.75,"y":0.04},{"c":"14","x":31.25,"y":0.02},{"c":"14","x":33.75,"y":0.05},{"c":"14","x":36.25,"y":0.06},{"c":"14","x":38.75,"y":0.05},{"c":"14","x":41.25,"y":0.03},{"c":"14","x":43.75,"y":0.12},{"c":"14","x":46.25,"y":0.09},{"c":"14","x":48.75,"y":0.07},{"c":"14","x":51.25,"y":0.03},{"c":"14","x":53.75,"y":0.08},{"c":"14","x":56.25,"y":0.14},{"c":"14","x":58.75,"y":0.12},{"c":"14","x":61.25,"y":0.2},{"c":"14","x":63.75,"y":0.16},{"c":"14","x":66.25,"y":0.13},{"c":"14","x":68.75,"y":0.17},{"c":"14","x":71.25,"y":0.21},{"c":"14","x":73.75,"y":0.18},{"c":"14","x":76.25,"y":0.13},{"c":"14","x":78.75,"y":0.15},{"c":"14","x":81.25,"y":0.18},{"c":"14","x":83.75,"y":0.15},{"c":"14","x":86.25,"y":0.11},{"c":"14","x":88.75,"y":0.14},{"c":"14","x":91.25,"y":0.16},{"c":"14","x":93.75,"y":0.11},{"c":"14","x":96.25,"y":0.15},{"c":"14","x":98.75,"y":0.2},
{"c":"15","x":0,"y":0.45},{"c":"15","x":3,"y":0.15},{"c":"15","x":6,"y":0.3},{"c":"15","x":9,"y":0.1},{"c":"15","x":12,"y":0.38},{"c":"15","x":15,"y":0.22},{"c":"15","x":18,"y":0.3},{"c":"15","x":21,"y":0.05},{"c":"15","x":24,"y":0.15},{"c":"15","x":27,"y":0},{"c":"15","x":30,"y":0.12},{"c":"15","x":33,"y":0.06},{"c":"15","x":36,"y":0.1},{"c":"15","x":39,"y":-0.02},{"c":"15","x":42,"y":0.08},{"c":"15","x":45,"y":0.12},{"c":"15","x":48,"y":-0.04},{"c":"15","x":51,"y":0.1},{"c":"15","x":54,"y":0.02},{"c":"15","x":57,"y":-0.08},{"c":"15","x":60,"y":0.1},{"c":"15","x":63,"y":0.05},{"c":"15","x":66,"y":-0.05},{"c":"15","x":69,"y":0.12},{"c":"15","x":72,"y":0},{"c":"15","x":75,"y":0.08},{"c":"15","x":78,"y":0.15},{"c":"15","x":81,"y":-0.03},{"c":"15","x":84,"y":0.1},{"c":"15","x":87,"y":0.04},{"c":"15","x":90,"y":0.12},{"c":"15","x":93,"y":-0.05},{"c":"15","x":96,"y":0.08},{"c":"15","x":99,"y":0.05},
{"c":"15","x":1.5,"y":0.3},{"c":"15","x":4.5,"y":0.22},{"c":"15","x":7.5,"y":0.2},{"c":"15","x":10.5,"y":0.25},{"c":"15","x":13.5,"y":0.3},{"c":"15","x":16.5,"y":0.26},{"c":"15","x":19.5,"y":0.18},{"c":"15","x":22.5,"y":0.1},{"c":"15","x":25.5,"y":0.08},{"c":"15","x":28.5,"y":0.06},{"c":"15","x":31.5,"y":0.09},{"c":"15","x":34.5,"y":0.08},{"c":"15","x":37.5,"y":0.04},{"c":"15","x":40.5,"y":0.03},{"c":"15","x":43.5,"y":0.1},{"c":"15","x":46.5,"y":0.04},{"c":"15","x":49.5,"y":0.03},{"c":"15","x":52.5,"y":0.06},{"c":"15","x":55.5,"y":-0.03},{"c":"15","x":58.5,"y":0.01},{"c":"15","x":61.5,"y":0.08},{"c":"15","x":64.5,"y":0},{"c":"15","x":67.5,"y":0.03},{"c":"15","x":70.5,"y":0.06},{"c":"15","x":73.5,"y":0.04},{"c":"15","x":76.5,"y":0.12},{"c":"15","x":79.5,"y":0.06},{"c":"15","x":82.5,"y":0.03},{"c":"15","x":85.5,"y":0.07},{"c":"15","x":88.5,"y":0.08},{"c":"15","x":91.5,"y":0.04},{"c":"15","x":94.5,"y":0.01},{"c":"15","x":97.5,"y":0.06},
{"c":"16","x":0,"y":0.05},{"c":"16","x":2.5,"y":-0.06},{"c":"16","x":5,"y":0.1},{"c":"16","x":7.5,"y":0},{"c":"16","x":10,"y":0.08},{"c":"16","x":12.5,"y":-0.04},{"c":"16","x":15,"y":0.12},{"c":"16","x":17.5,"y":0.02},{"c":"16","x":20,"y":0.06},{"c":"16","x":22.5,"y":-0.08},{"c":"16","x":25,"y":0.1},{"c":"16","x":27.5,"y":0.04},{"c":"16","x":30,"y":0.14},{"c":"16","x":32.5,"y":-0.02},{"c":"16","x":35,"y":0.08},{"c":"16","x":37.5,"y":0.16},{"c":"16","x":40,"y":0},{"c":"16","x":42.5,"y":0.1},{"c":"16","x":45,"y":-0.05},{"c":"16","x":47.5,"y":0.12},{"c":"16","x":50,"y":0.06},{"c":"16","x":52.5,"y":0.15},{"c":"16","x":55,"y":-0.04},{"c":"16","x":57.5,"y":0.1},{"c":"16","x":60,"y":0.02},{"c":"16","x":62.5,"y":0.16},{"c":"16","x":65,"y":0},{"c":"16","x":67.5,"y":0.12},{"c":"16","x":70,"y":-0.06},{"c":"16","x":72.5,"y":0.08},{"c":"16","x":75,"y":0.14},{"c":"16","x":77.5,"y":0.3},{"c":"16","x":80,"y":0.06},{"c":"16","x":82.5,"y":0.1},{"c":"16","x":85,"y":-0.1},{"c":"16","x":87.5,"y":0.12},{"c":"16","x":90,"y":0.2},{"c":"16","x":92.5,"y":0},{"c":"16","x":95,"y":0.15},{"c":"16","x":97.5,"y":0.06},{"c":"16","x":100,"y":0.1},
{"c":"16","x":1.25,"y":0},{"c":"16","x":3.75,"y":0.02},{"c":"16","x":6.25,"y":0.05},{"c":"16","x":8.75,"y":0.04},{"c":"16","x":11.25,"y":0.02},{"c":"16","x":13.75,"y":0.04},{"c":"16","x":16.25,"y":0.07},{"c":"16","x":18.75,"y":0.04},{"c":"16","x":21.25,"y":-0.01},{"c":"16","x":23.75,"y":0.01},{"c":"16","x":26.25,"y":0.07},{"c":"16","x":28.75,"y":0.09},{"c":"16","x":31.25,"y":0.06},{"c":"16","x":33.75,"y":0.03},{"c":"16","x":36.25,"y":0.12},{"c":"16","x":38.75,"y":0.08},{"c":"16","x":41.25,"y":0.05},{"c":"16","x":43.75,"y":0.02},{"c":"16","x":46.25,"y":0.04},{"c":"16","x":48.75,"y":0.09},{"c":"16","x":51.25,"y":0.1},{"c":"16","x":53.75,"y":0.05},{"c":"16","x":56.25,"y":0.03},{"c":"16","x":58.75,"y":0.06},{"c":"16","x":61.25,"y":0.09},{"c":"16","x":63.75,"y":0.08},{"c":"16","x":66.25,"y":0.06},{"c":"16","x":68.75,"y":0.03},{"c":"16","x":71.25,"y":0.01},{"c":"16","x":73.75,"y":0.11},{"c":"16","x":76.25,"y":0.22},{"c":"16","x":78.75,"y":0.18},{"c":"16","x":81.25,"y":0.08},{"c":"16","x":83.75,"y":0},{"c":"16","x":86.25,"y":0.01},{"c":"16","x":88.75,"y":0.16},{"c":"16","x":91.25,"y":0.1},{"c":"16","x":93.75,"y":0.07},{"c":"16","x":96.25,"y":0.1},{"c":"16","x":98.75,"y":0.08},
{"c":"17","x":0,"y":0.2},{"c":"17","x":2.5,"y":-0.12},{"c":"17","x":5,"y":0.25},{"c":"17","x":7.5,"y":-0.05},{"c":"17","x":10,"y":0.15},{"c":"17","x":12.5,"y":0.28},{"c":"17","x":15,"y":-0.08},{"c":"17","x":17.5,"y":0.12},{"c":"17","x":20,"y":0.2},{"c":"17","x":22.5,"y":0.02},{"c":"17","x":25,"y":0.25},{"c":"17","x":27.5,"y":-0.1},{"c":"17","x":30,"y":0.1},{"c":"17","x":32.5,"y":0.22},{"c":"17","x":35,"y":0},{"c":"17","x":37.5,"y":0.18},{"c":"17","x":40,"y":-0.06},{"c":"17","x":42.5,"y":0.26},{"c":"17","x":45,"y":0.12},{"c":"17","x":47.5,"y":0.05},{"c":"17","x":50,"y":0.2},{"c":"17","x":52.5,"y":-0.04},{"c":"17","x":55,"y":0.15},{"c":"17","x":57.5,"y":0},{"c":"17","x":60,"y":0.25},{"c":"17","x":62.5,"y":0.1},{"c":"17","x":65,"y":0.3},{"c":"17","x":67.5,"y":-0.05},{"c":"17","x":70,"y":0.18},{"c":"17","x":72.5,"y":0.28},{"c":"17","x":75,"y":0.02},{"c":"17","x":77.5,"y":0.22},{"c":"17","x":80,"y":0.12},{"c":"17","x":82.5,"y":0.3},{"c":"17","x":85,"y":-0.04},{"c":"17","x":87.5,"y":0.25},{"c":"17","x":90,"y":0.08},{"c":"17","x":92.5,"y":0.32},{"c":"17","x":95,"y":0.1},{"c":"17","x":97.5,"y":0.2},{"c":"17","x":100,"y":0.05},{"c":"17","x":56,"y":-0.42},
{"c":"17","x":1.25,"y":0.04},{"c":"17","x":3.75,"y":0.06},{"c":"17","x":6.25,"y":0.1},{"c":"17","x":8.75,"y":0.05},{"c":"17","x":11.25,"y":0.21},{"c":"17","x":13.75,"y":0.1},{"c":"17","x":16.25,"y":0.02},{"c":"17","x":18.75,"y":0.16},{"c":"17","x":21.25,"y":0.11},{"c":"17","x":23.75,"y":0.13},{"c":"17","x":26.25,"y":0.07},{"c":"17","x":28.75,"y":0},{"c":"17","x":31.25,"y":0.16},{"c":"17","x":33.75,"y":0.11},{"c":"17","x":36.25,"y":0.09},{"c":"17","x":38.75,"y":0.06},{"c":"17","x":41.25,"y":0.1},{"c":"17","x":43.75,"y":0.19},{"c":"17","x":46.25,"y":0.08},{"c":"17","x":48.75,"y":0.12},{"c":"17","x":51.25,"y":0.08},{"c":"17","x":53.75,"y":0.05},{"c":"17","x":56.25,"y":0.07},{"c":"17","x":58.75,"y":0.12},{"c":"17","x":61.25,"y":0.17},{"c":"17","x":63.75,"y":0.2},{"c":"17","x":66.25,"y":0.12},{"c":"17","x":68.75,"y":0.06},{"c":"17","x":71.25,"y":0.23},{"c":"17","x":73.75,"y":0.15},{"c":"17","x":76.25,"y":0.12},{"c":"17","x":78.75,"y":0.17},{"c":"17","x":81.25,"y":0.21},{"c":"17","x":83.75,"y":0.13},{"c":"17","x":86.25,"y":0.1},{"c":"17","x":88.75,"y":0.16},{"c":"17","x":91.25,"y":0.2},{"c":"17","x":93.75,"y":0.21},{"c":"17","x":96.25,"y":0.15},{"c":"17","x":98.75,"y":0.12},
{"c":"18","x":0,"y":0.05},{"c":"18","x":2.5,"y":0.1},{"c":"18","x":5,"y":-0.04},{"c":"18","x":7.5,"y":0.08},{"c":"18","x":10,"y":0},{"c":"18","x":12.5,"y":0.12},{"c":"18","x":15,"y":-0.02},{"c":"18","x":17.5,"y":0.06},{"c":"18","x":20,"y":0.1},{"c":"18","x":22.5,"y":-0.06},{"c":"18","x":25,"y":0.08},{"c":"18","x":27.5,"y":0.02},{"c":"18","x":30,"y":0.14},{"c":"18","x":32.5,"y":-0.04},{"c":"18","x":35,"y":0.06},{"c":"18","x":37.5,"y":0.1},{"c":"18","x":40,"y":0},{"c":"18","x":42.5,"y":0.16},{"c":"18","x":45,"y":0.04},{"c":"18","x":47.5,"y":0.08},{"c":"18","x":50,"y":-0.05},{"c":"18","x":52.5,"y":0.1},{"c":"18","x":55,"y":0.02},{"c":"18","x":57.5,"y":0.12},{"c":"18","x":60,"y":-0.03},{"c":"18","x":62.5,"y":0.06},{"c":"18","x":65,"y":0.1},{"c":"18","x":67.5,"y":0},{"c":"18","x":70,"y":0.14},{"c":"18","x":72.5,"y":0.04},{"c":"18","x":75,"y":0.08},{"c":"18","x":77.5,"y":-0.05},{"c":"18","x":80,"y":0.1},{"c":"18","x":82.5,"y":0.16},{"c":"18","x":85,"y":0.02},{"c":"18","x":87.5,"y":0.08},{"c":"18","x":90,"y":0.12},{"c":"18","x":92.5,"y":-0.04},{"c":"18","x":95,"y":0.1},{"c":"18","x":97.5,"y":0.05},{"c":"18","x":100,"y":0.08},
{"c":"18","x":1.25,"y":0.08},{"c":"18","x":3.75,"y":0.03},{"c":"18","x":6.25,"y":0.02},{"c":"18","x":8.75,"y":0.04},{"c":"18","x":11.25,"y":0.06},{"c":"18","x":13.75,"y":0.05},{"c":"18","x":16.25,"y":0.02},{"c":"18","x":18.75,"y":0.08},{"c":"18","x":21.25,"y":0.02},{"c":"18","x":23.75,"y":0.01},{"c":"18","x":26.25,"y":0.05},{"c":"18","x":28.75,"y":0.08},{"c":"18","x":31.25,"y":0.05},{"c":"18","x":33.75,"y":0.01},{"c":"18","x":36.25,"y":0.08},{"c":"18","x":38.75,"y":0.05},{"c":"18","x":41.25,"y":0.08},{"c":"18","x":43.75,"y":0.1},{"c":"18","x":46.25,"y":0.06},{"c":"18","x":48.75,"y":0.01},{"c":"18","x":51.25,"y":0.02},{"c":"18","x":53.75,"y":0.06},{"c":"18","x":56.25,"y":0.07},{"c":"18","x":58.75,"y":0.04},{"c":"18","x":61.25,"y":0.01},{"c":"18","x":63.75,"y":0.08},{"c":"18","x":66.25,"y":0.05},{"c":"18","x":68.75,"y":0.07},{"c":"18","x":71.25,"y":0.09},{"c":"18","x":73.75,"y":0.06},{"c":"18","x":76.25,"y":0.01},{"c":"18","x":78.75,"y":0.02},{"c":"18","x":81.25,"y":0.13},{"c":"18","x":83.75,"y":0.09},{"c":"18","x":86.25,"y":0.05},{"c":"18","x":88.75,"y":0.1},{"c":"18","x":91.25,"y":0.04},{"c":"18","x":93.75,"y":0.03},{"c":"18","x":96.25,"y":0.07},{"c":"18","x":98.75,"y":0.06},
{"c":"19","x":0,"y":0.15},{"c":"19","x":3,"y":0.05},{"c":"19","x":7,"y":-0.05},{"c":"19","x":10,"y":0},{"c":"19","x":13,"y":0.04},{"c":"19","x":17,"y":-0.08},{"c":"19","x":20,"y":0.02},{"c":"19","x":23,"y":-0.04},{"c":"19","x":27,"y":0},{"c":"19","x":30,"y":-0.06},{"c":"19","x":33,"y":0.02},{"c":"19","x":37,"y":-0.02},{"c":"19","x":40,"y":0.06},{"c":"19","x":43,"y":0},{"c":"19","x":47,"y":0.08},{"c":"19","x":50,"y":0.02},{"c":"19","x":53,"y":0.1},{"c":"19","x":57,"y":0.04},{"c":"19","x":60,"y":0.06},{"c":"19","x":63,"y":-0.02},{"c":"19","x":67,"y":0.05},{"c":"19","x":70,"y":0},{"c":"19","x":73,"y":0.08},{"c":"19","x":77,"y":-0.04},{"c":"19","x":80,"y":0.04},{"c":"19","x":83,"y":0.02},{"c":"19","x":87,"y":0.06},{"c":"19","x":90,"y":-0.06},{"c":"19","x":93,"y":0},{"c":"19","x":97,"y":0.04},{"c":"19","x":100,"y":0.02},
{"c":"20","x":0,"y":0.05},{"c":"20","x":2.5,"y":0.15},{"c":"20","x":5,"y":-0.05},{"c":"20","x":7.5,"y":-0.3},{"c":"20","x":10,"y":0.2},{"c":"20","x":12.5,"y":0},{"c":"20","x":15,"y":0.12},{"c":"20","x":17.5,"y":-0.08},{"c":"20","x":20,"y":0.1},{"c":"20","x":22.5,"y":0.04},{"c":"20","x":25,"y":0.16},{"c":"20","x":27.5,"y":-0.06},{"c":"20","x":30,"y":0.08},{"c":"20","x":32.5,"y":0},{"c":"20","x":35,"y":0.14},{"c":"20","x":37.5,"y":-0.04},{"c":"20","x":40,"y":0.1},{"c":"20","x":42.5,"y":0.2},{"c":"20","x":45,"y":0.02},{"c":"20","x":47.5,"y":0.12},{"c":"20","x":50,"y":-0.06},{"c":"20","x":52.5,"y":0.08},{"c":"20","x":55,"y":0.16},{"c":"20","x":57.5,"y":-0.02},{"c":"20","x":60,"y":0.1},{"c":"20","x":62.5,"y":0.04},{"c":"20","x":65,"y":0.14},{"c":"20","x":67.5,"y":-0.08},{"c":"20","x":70,"y":0.06},{"c":"20","x":72.5,"y":0.12},{"c":"20","x":75,"y":0},{"c":"20","x":77.5,"y":0.1},{"c":"20","x":80,"y":0.18},{"c":"20","x":82.5,"y":-0.04},{"c":"20","x":85,"y":0.12},{"c":"20","x":87.5,"y":0.06},{"c":"20","x":90,"y":0.3},{"c":"20","x":92.5,"y":0.1},{"c":"20","x":95,"y":0.16},{"c":"20","x":97.5,"y":-0.02},{"c":"20","x":100,"y":0.08},
{"c":"20","x":1.25,"y":0.1},{"c":"20","x":3.75,"y":0.05},{"c":"20","x":6.25,"y":-0.15},{"c":"20","x":8.75,"y":-0.05},{"c":"20","x":11.25,"y":0.1},{"c":"20","x":13.75,"y":0.06},{"c":"20","x":16.25,"y":0.02},{"c":"20","x":18.75,"y":0.01},{"c":"20","x":21.25,"y":0.07},{"c":"20","x":23.75,"y":0.1},{"c":"20","x":26.25,"y":0.05},{"c":"20","x":28.75,"y":0.01},{"c":"20","x":31.25,"y":0.04},{"c":"20","x":33.75,"y":0.07},{"c":"20","x":36.25,"y":0.05},{"c":"20","x":38.75,"y":0.03},{"c":"20","x":41.25,"y":0.15},{"c":"20","x":43.75,"y":0.11},{"c":"20","x":46.25,"y":0.07},{"c":"20","x":48.75,"y":0.03},{"c":"20","x":51.25,"y":0.01},{"c":"20","x":53.75,"y":0.12},{"c":"20","x":56.25,"y":0.07},{"c":"20","x":58.75,"y":0.04},{"c":"20","x":61.25,"y":0.07},{"c":"20","x":63.75,"y":0.09},{"c":"20","x":66.25,"y":0.03},{"c":"20","x":68.75,"y":-0.01},{"c":"20","x":71.25,"y":0.09},{"c":"20","x":73.75,"y":0.06},{"c":"20","x":76.25,"y":0.05},{"c":"20","x":78.75,"y":0.14},{"c":"20","x":81.25,"y":0.07},{"c":"20","x":83.75,"y":0.04},{"c":"20","x":86.25,"y":0.09},{"c":"20","x":88.75,"y":0.18},{"c":"20","x":91.25,"y":0.2},{"c":"20","x":93.75,"y":0.13},{"c":"20","x":96.25,"y":0.07},{"c":"20","x":98.75,"y":0.03},
{"c":"21","x":0,"y":0},{"c":"21","x":2.5,"y":-0.08},{"c":"21","x":5,"y":0.05},{"c":"21","x":7.5,"y":0.1},{"c":"21","x":10,"y":0.15},{"c":"21","x":12.5,"y":0.22},{"c":"21","x":15,"y":0.1},{"c":"21","x":17.5,"y":0.08},{"c":"21","x":20,"y":0.02},{"c":"21","x":22.5,"y":0.12},{"c":"21","x":25,"y":0.08},{"c":"21","x":27.5,"y":0.2},{"c":"21","x":30,"y":0.25},{"c":"21","x":32.5,"y":0.12},{"c":"21","x":35,"y":0.2},{"c":"21","x":37.5,"y":0.1},{"c":"21","x":40,"y":0.02},{"c":"21","x":42.5,"y":0.05},{"c":"21","x":45,"y":0.25},{"c":"21","x":47.5,"y":0.18},{"c":"21","x":50,"y":0.22},{"c":"21","x":52.5,"y":0.15},{"c":"21","x":55,"y":0.08},{"c":"21","x":57.5,"y":-0.02},{"c":"21","x":60,"y":-0.05},{"c":"21","x":62.5,"y":0},{"c":"21","x":65,"y":-0.06},{"c":"21","x":67.5,"y":-0.02},{"c":"21","x":70,"y":-0.05},{"c":"21","x":72.5,"y":0},{"c":"21","x":75,"y":-0.04},{"c":"21","x":77.5,"y":-0.02},{"c":"21","x":80,"y":0.02},{"c":"21","x":82.5,"y":-0.03},{"c":"21","x":85,"y":0},{"c":"21","x":87.5,"y":0.04},{"c":"21","x":90,"y":0.02},{"c":"21","x":92.5,"y":0.05},{"c":"21","x":95,"y":0.06},{"c":"21","x":97.5,"y":0.04},{"c":"21","x":100,"y":0.05},
{"c":"22","x":4,"y":-0.05},{"c":"22","x":8,"y":0.02},{"c":"22","x":11,"y":0.1},{"c":"22","x":16,"y":0.08},{"c":"22","x":22,"y":0.07},{"c":"22","x":28,"y":0.27},{"c":"22","x":33,"y":-0.09},{"c":"22","x":38,"y":0.17},{"c":"22","x":50,"y":0.14},{"c":"22","x":56,"y":0.22},{"c":"22","x":61,"y":0.14},{"c":"22","x":67,"y":0},{"c":"22","x":72,"y":-0.02},{"c":"22","x":83,"y":-0.05},{"c":"22","x":88,"y":-0.08},{"c":"22","x":94,"y":-0.1},{"c":"22","x":100,"y":0.03},
{"c":"X","x":0,"y":-0.12},{"c":"X","x":2,"y":0.5},{"c":"X","x":4,"y":0.62},{"c":"X","x":6,"y":0.95},{"c":"X","x":8,"y":0.75},{"c":"X","x":10,"y":0.8},{"c":"X","x":12,"y":0.7},{"c":"X","x":14,"y":0.76},{"c":"X","x":16,"y":0.68},{"c":"X","x":18,"y":0.6},{"c":"X","x":20,"y":0.72},{"c":"X","x":22,"y":0.45},{"c":"X","x":24,"y":0.72},{"c":"X","x":26,"y":0.96},{"c":"X","x":28,"y":0.6},{"c":"X","x":30,"y":1.05},{"c":"X","x":32,"y":0.8},{"c":"X","x":34,"y":0.62},{"c":"X","x":36,"y":0.75},{"c":"X","x":38,"y":0.7},{"c":"X","x":40,"y":0.55},{"c":"X","x":42,"y":0.82},{"c":"X","x":44,"y":0.68},{"c":"X","x":46,"y":0.85},{"c":"X","x":48,"y":0.6},{"c":"X","x":50,"y":0.75},{"c":"X","x":52,"y":0.92},{"c":"X","x":54,"y":0.65},{"c":"X","x":56,"y":0.8},{"c":"X","x":58,"y":0.55},{"c":"X","x":60,"y":0.72},{"c":"X","x":62,"y":0.85},{"c":"X","x":64,"y":0.68},{"c":"X","x":66,"y":0.92},{"c":"X","x":68,"y":0.75},{"c":"X","x":70,"y":0.6},{"c":"X","x":72,"y":0.8},{"c":"X","x":74,"y":0.7},{"c":"X","x":76,"y":0.9},{"c":"X","x":78,"y":0.78},{"c":"X","x":80,"y":0.85},{"c":"X","x":82,"y":0.7},{"c":"X","x":84,"y":0.82},{"c":"X","x":86,"y":0.75},{"c":"X","x":88,"y":0.8},{"c":"X","x":90,"y":0.72},{"c":"X","x":92,"y":0.78},{"c":"X","x":94,"y":0.7},{"c":"X","x":96,"y":0.75},{"c":"X","x":98,"y":0.65},{"c":"X","x":100,"y":0.02},
{"c":"1","k":"r"},{"c":"2","k":"r"},{"c":"3","k":"r"},{"c":"4","k":"r"},{"c":"5","k":"r"},{"c":"6","k":"r"},{"c":"7","k":"r"},{"c":"8","k":"r"},{"c":"9","k":"r"},{"c":"10","k":"r"},{"c":"10","k":"r"},{"c":"11","k":"r"},{"c":"12","k":"r"},{"c":"13","k":"r"},{"c":"14","k":"r"},{"c":"15","k":"r"},{"c":"16","k":"r"},{"c":"17","k":"r"},{"c":"18","k":"r"},{"c":"19","k":"r"},{"c":"20","k":"r"},{"c":"21","k":"r"},{"c":"22","k":"r"},{"c":"X","k":"r"}
]},
"facet":{"field":"c","type":"nominal","sort":["1","2","3","4","5","6","7","8","9","10","11","12","13","14","15","16","17","18","19","20","21","22","X"],
 "header":{"title":null,"labelOrient":"bottom","labelFontSize":19,"labelFont":"Liberation Sans","labelColor":"#262626","labelPadding":16,
 "labelExpr":"'chr ' + (length(datum.value) == 1 && datum.value != 'X' ? '\u00a0' : '') + datum.value"}},
"spec":{
 "width":139,"height":93,
 "layer":[
  {"transform":[{"filter":"datum.k !== 'r'"}],
   "mark":{"type":"circle","size":36,"color":"#0072BD","opacity":0.92},
   "encoding":{
    "x":{"field":"x","type":"quantitative","scale":{"domain":[0,100],"nice":false,"zero":false},"axis":null},
    "y":{"field":"y","type":"quantitative","scale":{"domain":[-1.5,1.5],"nice":false},
     "axis":{"orient":"left","values":[-1,0,1],"labelExpr":"datum.value","title":null,"domain":false,"grid":false,"tickSize":-4,"tickColor":"#262626","labelPadding":12,"labelFontSize":23,"labelColor":"#262626","labelFont":"Liberation Sans"}}}},
  {"transform":[{"filter":"datum.k === 'r'"}],
   "mark":{"type":"rule","color":"#ff0000","strokeWidth":3,"opacity":0.6},
   "encoding":{
    "y":{"datum":0,"type":"quantitative","scale":{"domain":[-1.5,1.5],"nice":false},
     "axis":{"orient":"right","values":[-1,0,1],"title":null,"domain":false,"grid":false,"labels":false,"tickSize":-4,"tickColor":"#262626"}}}}
 ],
 "resolve":{"axis":{"y":"independent"}}
},
"resolve":{"axis":{"y":"independent"}}
}
